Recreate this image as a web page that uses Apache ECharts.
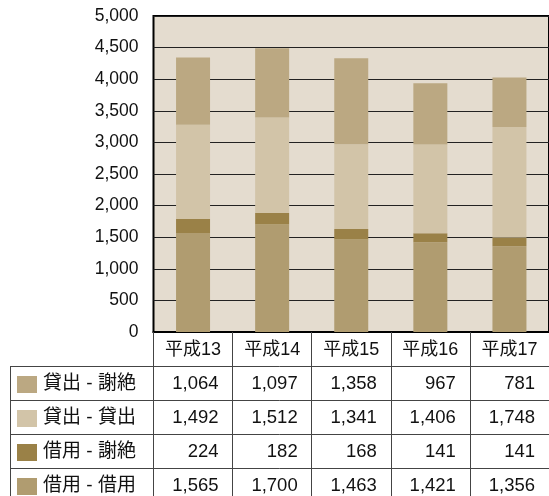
<!DOCTYPE html>
<html><head><meta charset="utf-8">
<script src="https://cdn.jsdelivr.net/npm/echarts@6/dist/echarts.min.js"></script>
<style>html,body{margin:0;padding:0;background:#fff}#c{width:549px;height:496px}</style>
</head><body><div id="c"></div>
<script>
const categories = ['平成13','平成14','平成15','平成16','平成17'];
const kashidashiShazetsu = [1064,1097,1358,967,781];   // 貸出 - 謝絶
const kashidashiKashidashi = [1492,1512,1341,1406,1748]; // 貸出 - 貸出
const shakuyoShazetsu = [224,182,168,141,141];          // 借用 - 謝絶
const shakuyoShakuyo = [1565,1700,1463,1421,1356];      // 借用 - 借用
const yTicks = [0,500,1000,1500,2000,2500,3000,3500,4000,4500,5000];

const FONT = '"Liberation Sans", Arial, "Noto Sans CJK JP", sans-serif';
const seriesDefs = [
  {name:'借用 - 借用', data:shakuyoShakuyo, color:'#B09C70'},
  {name:'借用 - 謝絶', data:shakuyoShazetsu, color:'#9A8147'},
  {name:'貸出 - 貸出', data:kashidashiKashidashi, color:'#D2C4A8'},
  {name:'貸出 - 謝絶', data:kashidashiShazetsu, color:'#BBA882'}
];
const tableRows = seriesDefs.slice().reverse();
const fmt = v => v.toLocaleString('en-US');

const chart = echarts.init(document.getElementById('c'), null, {renderer:'canvas'});
const option = {
  animation:false,
  backgroundColor:'#fff',
  grid:{left:153.5, top:16, width:402, height:316, show:true, backgroundColor:'#E4DCCF', borderColor:'#000', borderWidth:2, containLabel:false},
  xAxis:{type:'category', data:categories,
    axisLine:{show:true, lineStyle:{color:'#000', width:2}},
    axisTick:{show:true, interval:0, alignWithLabel:false, length:170, lineStyle:{color:'#444', width:1}},
    axisLabel:{interval:0, margin:8, fontSize:18, lineHeight:20, color:'#111', fontFamily:FONT}},
  yAxis:{type:'value', min:yTicks[0], max:yTicks[yTicks.length-1], interval:yTicks[1]-yTicks[0],
    axisLine:{show:false}, axisTick:{show:false},
    axisLabel:{margin:15, fontSize:17.5, color:'#111', fontFamily:FONT, formatter:v=>fmt(v)},
    splitLine:{show:true, lineStyle:{color:'#222', width:1}}},
  series: seriesDefs.map(s=>({type:'bar', name:s.name, stack:'all', data:s.data, barWidth:34,
    itemStyle:{color:s.color}, emphasis:{disabled:true}}))
};
chart.setOption(option);

// Data table under the chart
const c0 = chart.convertToPixel({xAxisIndex:0}, 0);
const c1 = chart.convertToPixel({xAxisIndex:0}, 1);
const colW = c1 - c0;
const gridLeft = c0 - colW/2;
const tableRight = gridLeft + colW*categories.length;
const headerBottom = 366, rowH = 34, tableLeft = 10.5;
const g = [];
const lineStyle = {stroke:'#444', lineWidth:1};
for (let r=0; r<=tableRows.length; r++){
  const y = Math.round(headerBottom + r*rowH) + 0.5;
  g.push({type:'line', shape:{x1:tableLeft, y1:y, x2:tableRight, y2:y}, style:lineStyle, silent:true});
}
g.push({type:'line', shape:{x1:tableLeft, y1:headerBottom, x2:tableLeft, y2:headerBottom+rowH*tableRows.length}, style:lineStyle, silent:true});
tableRows.forEach((s, r)=>{
  const yc = headerBottom + r*rowH + rowH/2 + 1;
  g.push({type:'rect', shape:{x:17, y:yc-8, width:20, height:17}, style:{fill:s.color}, silent:true});
  g.push({type:'text', x:43, y:yc, style:{text:s.name, fontSize:19, fontFamily:FONT, fill:'#111', verticalAlign:'middle', align:'left'}, silent:true});
  s.data.forEach((v,i)=>{
    const cx = chart.convertToPixel({xAxisIndex:0}, i);
    g.push({type:'text', x:cx + colW/2 - 14, y:yc, style:{text:fmt(v), fontSize:18.5, fontFamily:FONT, fill:'#111', verticalAlign:'middle', align:'right'}, silent:true});
  });
});
chart.setOption({graphic:g});
</script></body></html>
